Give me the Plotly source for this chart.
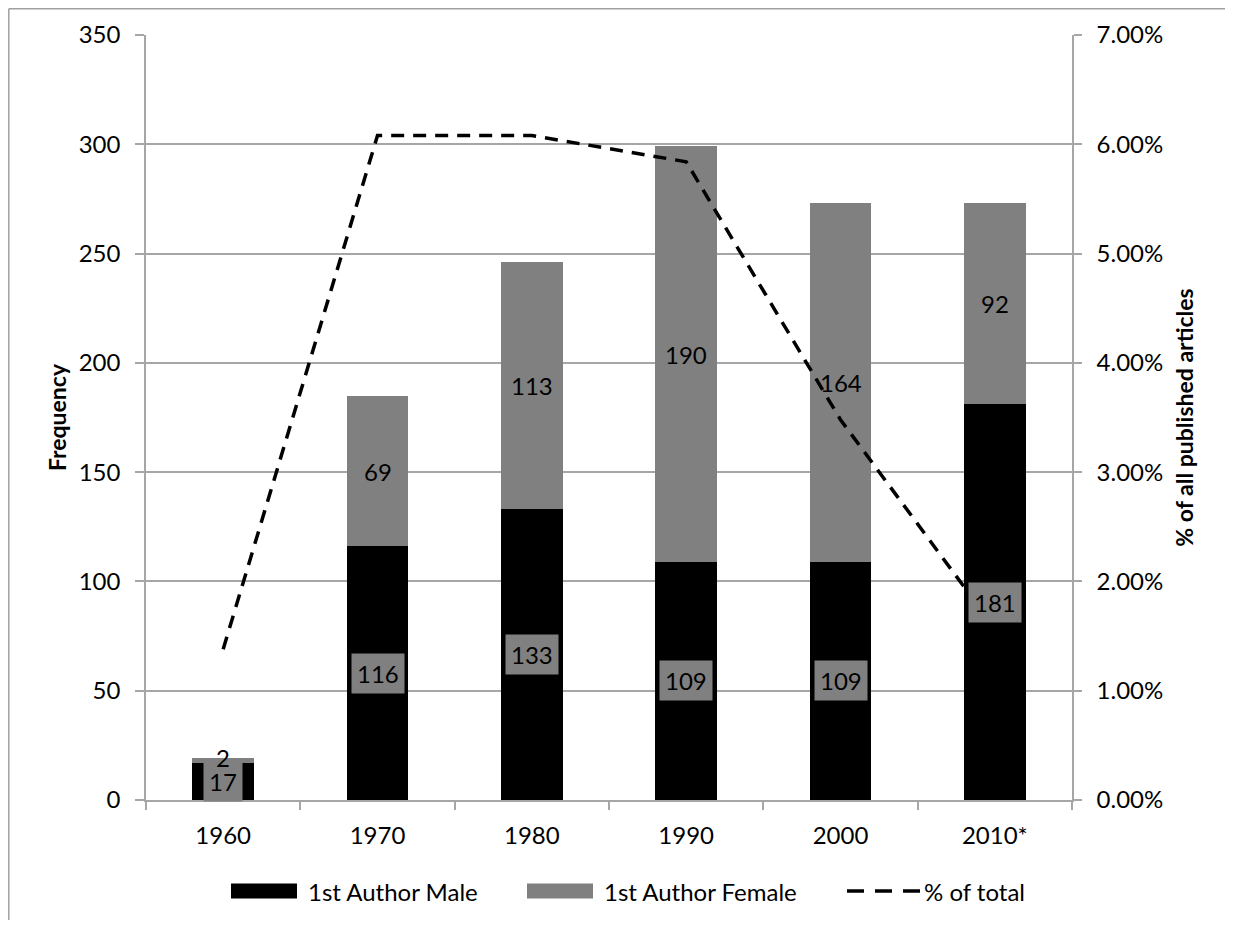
import plotly.graph_objects as go

decades = ["1960", "1970", "1980", "1990", "2000", "2010*"]
male = [17, 116, 133, 109, 109, 181]
female = [2, 69, 113, 190, 164, 92]
pct_total = [0.0138, 0.0608, 0.0608, 0.0584, 0.0348, 0.0157]
series_names = ["1st Author Male", "1st Author Female", "% of total"]

FONT = "Lato"
BLACK = "#000000"
GREY = "#808080"
GRID = "#A6A6A6"
FS = 24

OFF = 8  # default page body margin
W, H = 1233 - 2 * OFF, 928 - 2 * OFF
L, R, T, B = 146 - OFF, 1072 - OFF, 35 - OFF, 800 - OFF
DASH = "13px,9px"

fig = go.Figure()
fig.add_trace(go.Bar(x=decades, y=male, name=series_names[0], showlegend=False,
                     marker=dict(color=BLACK, line=dict(width=0)), yaxis="y"))
fig.add_trace(go.Bar(x=decades, y=female, name=series_names[1], showlegend=False,
                     marker=dict(color=GREY, line=dict(width=0)), yaxis="y"))
fig.add_trace(go.Scatter(x=decades, y=pct_total, name=series_names[2], mode="lines",
                         showlegend=False,
                         line=dict(color=BLACK, width=3.5, dash=DASH),
                         yaxis="y2"))

ann = []
for i, (m, f) in enumerate(zip(male, female)):
    ann.append(dict(x=i, y=m / 2, xref="x", yref="y", text=str(m), showarrow=False,
                    bgcolor=GREY, borderpad=5, font=dict(family=FONT, size=FS, color=BLACK)))
    ann.append(dict(x=i, y=m + f / 2, xref="x", yref="y", text=str(f), showarrow=False,
                    yshift=3 if f < 10 else 0,
                    font=dict(family=FONT, size=FS, color=BLACK)))


def px(xp):
    return (xp - OFF - L) / (R - L)


def py(yp):
    return (B - (yp - OFF)) / (B - T)


shapes = [
    dict(type="line", xref="paper", yref="paper", x0=px(8.8), x1=px(1240), y0=py(8.8), y1=py(8.8),
         line=dict(color="#A0A0A0", width=1.5)),
    dict(type="line", xref="paper", yref="paper", x0=px(8.8), x1=px(8.8), y0=py(8.8), y1=py(940),
         line=dict(color="#A0A0A0", width=1.5)),
]

# legend (drawn as shapes + text so the swatches match the wide rectangles)
LEG_Y = 891
leg_items = [
    ("rect", BLACK, 231, 297, 306),
    ("rect", GREY, 527, 593, 602),
    ("line", BLACK, 847, 920, 922),
]
for (kind, col, x0, x1, tx), name in zip(leg_items, series_names):
    if kind == "rect":
        shapes.append(dict(type="rect", xref="paper", yref="paper",
                           x0=px(x0), x1=px(x1), y0=py(LEG_Y + 7.5), y1=py(LEG_Y - 7.5),
                           fillcolor=col, line=dict(width=0)))
    else:
        shapes.append(dict(type="line", xref="paper", yref="paper",
                           x0=px(x0), x1=px(x1), y0=py(LEG_Y), y1=py(LEG_Y),
                           line=dict(color=col, width=3.5, dash="17px,11px")))
    ann.append(dict(x=px(tx), y=py(LEG_Y), xref="paper", yref="paper", text=name,
                    showarrow=False, xanchor="left", yanchor="middle",
                    font=dict(family=FONT, size=FS, color=BLACK)))

fig.update_layout(
    width=W, height=H,
    margin=dict(l=L, r=W - R, t=T, b=H - B, pad=0),
    barmode="stack", bargap=0.6,
    plot_bgcolor="white", paper_bgcolor="white",
    font=dict(family=FONT, size=FS, color=BLACK),
    showlegend=False,
    xaxis=dict(type="category", range=[-0.5, len(decades) - 0.5],
               showline=True, linecolor=GRID, linewidth=1.5,
               ticks="outside", ticklen=8, tickcolor=GRID, tickwidth=1.5,
               tickson="boundaries", showgrid=False, ticklabelstandoff=13,
               tickfont=dict(family=FONT, size=FS, color=BLACK)),
    yaxis=dict(range=[0, 350], dtick=50, showgrid=True, gridcolor=GRID, gridwidth=1.5,
               showline=True, linecolor=GRID, linewidth=1.5, ticks="outside", ticklen=9,
               tickcolor=GRID, tickwidth=1.5, zeroline=False, ticklabelstandoff=10,
               tickfont=dict(family=FONT, size=FS, color=BLACK),
               title=dict(text="<b>Frequency</b>", standoff=6,
                          font=dict(family=FONT, size=23, color=BLACK))),
    yaxis2=dict(range=[0, 0.07], dtick=0.01, tickformat=".2%", overlaying="y", side="right",
                showgrid=False, showline=True, linecolor=GRID, linewidth=1.5,
                ticks="outside", ticklen=8, tickcolor=GRID, tickwidth=1.5, zeroline=False,
                ticklabelstandoff=10,
                tickfont=dict(family=FONT, size=FS, color=BLACK),
                title=dict(text="<b>% of all published articles</b>", standoff=15,
                           font=dict(family=FONT, size=23, color=BLACK))),
    annotations=ann,
    shapes=shapes,
)

fig.write_html("out.html")
